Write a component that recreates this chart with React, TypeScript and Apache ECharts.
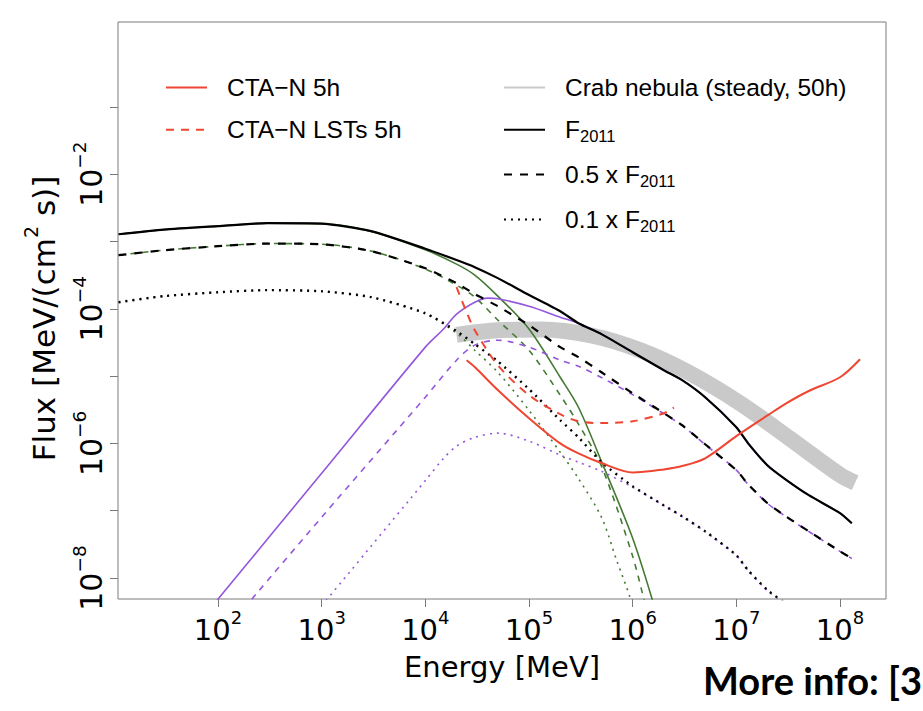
import React, { useEffect, useRef } from 'react';
import * as echarts from 'echarts';

const FONT = '"Liberation Sans", Arial, Helvetica, sans-serif';
const AXFONT = '"DejaVu Sans", "Liberation Sans", Arial, sans-serif';

// ---- axes ----
const xRange = [10.85, 2.778e8];
const yRange = [4.875e-9, 1.82];
const xTickValues = [1e2, 1e3, 1e4, 1e5, 1e6, 1e7, 1e8];
const yTickValues = [1e-1, 1e-2, 1e-3, 1e-4, 1e-5, 1e-6, 1e-7, 1e-8];
const yLabelValues = [1e-2, 1e-4, 1e-6, 1e-8];

// ---- series values: [Energy MeV, Flux MeV/(cm^2 s)] ----
const f2011: [number, number][] = [
  [11, 1.28e-3], [30, 1.5e-3], [100, 1.69e-3], [300, 1.87e-3], [1e3, 1.84e-3], [3e3, 1.42e-3],
  [1e4, 7.8e-4], [2e4, 5.3e-4], [3e4, 4.15e-4], [5e4, 2.85e-4], [1e5, 1.6e-4], [2e5, 9.2e-5],
  [3e5, 6.1e-5], [5e5, 4.2e-5], [1e6, 2.26e-5], [2e6, 1.22e-5], [3e6, 8.7e-6], [5e6, 4.85e-6],
  [1e7, 1.74e-6], [1.3e7, 1.0e-6], [2e7, 4.7e-7], [3e7, 2.9e-7], [5e7, 1.7e-7], [1e8, 9.2e-8], [1.3e8, 6.5e-8],
];
const half2011: [number, number][] = [
  [11, 6.25e-4], [30, 7.4e-4], [100, 8.5e-4], [300, 9.3e-4], [1e3, 9.1e-4], [3e3, 7.2e-4],
  [1e4, 4.0e-4], [2e4, 2.4e-4], [3e4, 1.65e-4], [5e4, 1.09e-4], [1e5, 5.7e-5], [2e5, 2.69e-5],
  [3e5, 1.91e-5], [5e5, 1.14e-5], [1e6, 5.56e-6], [2e6, 2.81e-6], [3e6, 1.86e-6], [5e6, 9.7e-7],
  [1e7, 4.0e-7], [1.3e7, 2.47e-7], [2e7, 1.29e-7], [3e7, 8.26e-8], [5e7, 4.94e-8], [1e8, 2.49e-8], [1.3e8, 1.96e-8],
];
const tenth2011: [number, number][] = [
  [11, 1.25e-4], [30, 1.54e-4], [100, 1.76e-4], [300, 1.89e-4], [1e3, 1.82e-4], [3e3, 1.49e-4],
  [1e4, 8.6e-5], [2e4, 4.65e-5], [3e4, 2.98e-5], [5e4, 1.66e-5], [1e5, 6.4e-6], [2e5, 2.21e-6],
  [3e5, 1.23e-6], [5e5, 5.25e-7], [1e6, 2.31e-7], [2e6, 1.2e-7], [3e6, 8.26e-8], [5e6, 4.94e-8],
  [1e7, 2.18e-8], [1.3e7, 1.3e-8], [2e7, 6.6e-9], [3e7, 4.2e-9],
];
const hadF: [number, number][] = [
  [11, 1.28e-3], [30, 1.5e-3], [100, 1.69e-3], [300, 1.87e-3], [1e3, 1.84e-3], [3e3, 1.41e-3],
  [1e4, 7.5e-4], [2e4, 4.6e-4], [3e4, 3.16e-4], [5e4, 1.54e-4], [1e5, 5.0e-5], [2e5, 9.6e-6],
  [3e5, 3.44e-6], [5e5, 5.4e-7], [1e6, 3.9e-8], [1.6e6, 4e-9],
];
const hadHalf: [number, number][] = [
  [11, 6.25e-4], [30, 7.4e-4], [100, 8.5e-4], [300, 9.3e-4], [1e3, 9.1e-4], [3e3, 7.2e-4],
  [1e4, 3.9e-4], [2e4, 2.24e-4], [3e4, 1.49e-4], [5e4, 6.8e-5], [1e5, 2.42e-5], [2e5, 5.2e-6],
  [3e5, 1.93e-6], [5e5, 4.6e-7], [1e6, 2.1e-8], [1.32e6, 4e-9],
];
const hadTenth: [number, number][] = [
  [11, 1.25e-4], [30, 1.54e-4], [100, 1.76e-4], [300, 1.89e-4], [1e3, 1.82e-4], [3e3, 1.49e-4],
  [1e4, 8.4e-5], [2e4, 4.34e-5], [3e4, 2.42e-5], [5e4, 1.14e-5], [1e5, 3.1e-6], [2e5, 7.4e-7],
  [3e5, 3.0e-7], [5e5, 8.0e-8], [7e5, 1.84e-8], [9.4e5, 5.2e-9], [1.05e6, 2.5e-9],
];
const icF: [number, number][] = [
  [80, 3.2e-9], [1e3, 3.6e-7], [1e4, 2.69e-5], [1.5e4, 5.0e-5], [2e4, 8.3e-5], [3e4, 1.25e-4],
  [4e4, 1.44e-4], [5e4, 1.41e-4], [1e5, 1.09e-4], [2e5, 7.5e-5], [3e5, 6.1e-5], [5e5, 4.2e-5],
  [1e6, 2.26e-5], [2e6, 1.22e-5], [3e6, 8.7e-6], [5e6, 4.85e-6], [1e7, 1.74e-6], [1.3e7, 1.0e-6],
  [2e7, 4.7e-7], [3e7, 2.9e-7], [5e7, 1.7e-7], [1e8, 9.2e-8], [1.3e8, 6.5e-8],
];
const icHalf: [number, number][] = [
  [150, 2.6e-9], [1e3, 8.0e-8], [1e4, 4.85e-6], [2e4, 1.72e-5], [3e4, 2.88e-5], [5e4, 3.41e-5],
  [1e5, 2.69e-5], [2e5, 1.72e-5], [3e5, 1.4e-5], [5e5, 9.5e-6], [1e6, 5.3e-6], [2e6, 2.75e-6],
  [3e6, 1.84e-6], [5e6, 9.6e-7], [1e7, 4.0e-7], [1.3e7, 2.45e-7], [2e7, 1.28e-7], [3e7, 8.2e-8],
  [5e7, 4.9e-8], [1e8, 2.48e-8], [1.3e8, 1.95e-8],
];
const icTenth: [number, number][] = [
  [1e3, 3.85e-9], [1e4, 2.8e-7], [1.5e4, 6.0e-7], [2e4, 9.1e-7], [3e4, 1.23e-6], [5e4, 1.42e-6],
  [1e5, 1.08e-6], [2e5, 6.7e-7], [3e5, 5.25e-7], [5e5, 3.85e-7], [1e6, 2.23e-7], [2e6, 1.19e-7],
  [3e6, 8.2e-8], [5e6, 4.9e-8], [1e7, 2.16e-8], [1.3e7, 1.29e-8], [2e7, 6.5e-9], [3e7, 4.1e-9],
];
const ctaN: [number, number][] = [
  [2.5e4, 1.72e-5], [3e4, 1.36e-5], [5e4, 6.2e-6], [1e5, 2.37e-6], [2e5, 1.0e-6], [3e5, 7.1e-7],
  [5e5, 5.1e-7], [1e6, 3.7e-7], [2e6, 4.1e-7], [3e6, 4.6e-7], [5e6, 6.0e-7], [1e7, 1.28e-6],
  [2e7, 2.6e-6], [3e7, 3.9e-6], [5e7, 6.0e-6], [1e8, 9.6e-6], [1.56e8, 1.78e-5],
];
const ctaLST: [number, number][] = [
  [2.0e4, 2.09e-4], [2.5e4, 8.9e-5], [3e4, 4.8e-5], [5e4, 1.45e-5], [1e5, 5.2e-6], [2e5, 2.71e-6],
  [3e5, 2.13e-6], [5e5, 2.0e-6], [1e6, 2.13e-6], [2e6, 2.8e-6], [2.5e6, 3.4e-6],
];
const crab: [number, number][] = [
  [2.0e4, 4.1e-5], [5e4, 4.8e-5], [1.3e5, 4.9e-5], [4e5, 4.0e-5], [1.2e6, 2.4e-5], [3.5e6, 1.12e-5],
  [1.1e7, 3.9e-6], [3.3e7, 1.17e-6], [1e8, 3.4e-7], [1.4e8, 2.6e-7],
];

const legendLeft = ['CTA\u2212N 5h', 'CTA\u2212N LSTs 5h'];
const legendRight = ['Crab nebula (steady, 50h)', 'F2011', '0.5 x F2011', '0.1 x F2011'];

const RED = '#ee4632';
const PURPLE = '#9457dc';
const GREEN = '#447a33';
const BLACK = '#000000';
const GRAY = '#c9c9c9';

const powLabel = (v: number) => {
  const e = Math.round(Math.log10(v));
  return `{b|10}{s|${e < 0 ? '\u2212' + -e : e}}`;
};

const xTickRich = {
  b: { fontSize: 29, lineHeight: 36, verticalAlign: 'bottom', fontFamily: AXFONT, color: '#000' },
  s: { fontSize: 18, lineHeight: 22, verticalAlign: 'top', fontFamily: AXFONT, color: '#000' },
};
const yTickRich = {
  b: { fontSize: 30, lineHeight: 36, verticalAlign: 'bottom', fontFamily: AXFONT, color: '#000' },
  s: { fontSize: 18.5, lineHeight: 22, verticalAlign: 'top', fontFamily: AXFONT, color: '#000' },
};

const legendFormatter = (name: string) => {
  if (name.endsWith('F2011')) {
    return `{n|${name.slice(0, -4)}}{sub|2011}`;
  }
  return `{n|${name}}`;
};

const legendTextStyle = {
  fontFamily: FONT,
  fontSize: 24.5,
  color: '#000',
  padding: [0, 0, 0, 15],
  rich: {
    n: { fontSize: 24.5, lineHeight: 30, verticalAlign: 'middle', fontFamily: FONT, color: '#000' },
    sub: { fontSize: 16.5, lineHeight: 16, verticalAlign: 'bottom', fontFamily: FONT, color: '#000' },
  },
};

const mkLine = (
  name: string,
  data: [number, number][],
  color: string,
  width: number,
  type: any,
  smooth = 0.3,
) => ({
  type: 'line',
  name,
  data,
  symbol: 'none',
  showSymbol: false,
  smooth,
  silent: true,
  clip: true,
  lineStyle: { color, width, type, cap: 'butt' },
  itemStyle: { color },
  emphasis: { disabled: true },
});

export default function App() {
  const ref = useRef<HTMLDivElement>(null);
  useEffect(() => {
    if (!ref.current) return;
    const chart = echarts.init(ref.current, undefined, { renderer: 'svg' });
    const legendCommon = {
      orient: 'vertical',
      top: 75,
      padding: 0,
      itemWidth: 41,
      itemHeight: 14,
      itemGap: 17.3,
      selectedMode: false,
      formatter: legendFormatter,
      textStyle: legendTextStyle,
      itemStyle: { opacity: 0 },
      lineStyle: { width: 2 },
    };
    const option: any = {
      animation: false,
      backgroundColor: '#ffffff',
      grid: {
        left: 118, right: 37, top: 22, bottom: 112,
        show: true, borderColor: '#7a7a7a', borderWidth: 1, backgroundColor: 'transparent',
      },
      xAxis: {
        type: 'log',
        logBase: 10,
        min: xRange[0],
        max: xRange[1],
        axisLine: { show: false },
        splitLine: { show: false },
        minorTick: { show: false },
        axisTick: { show: true, length: 8, inside: false, customValues: xTickValues, lineStyle: { color: '#7a7a7a' } },
        axisLabel: { customValues: xTickValues, formatter: powLabel, rich: xTickRich, margin: 9 },
        name: 'Energy [MeV]',
        nameLocation: 'middle',
        nameGap: 37,
        nameTextStyle: { fontFamily: AXFONT, fontSize: 29, lineHeight: 36, color: '#000' },
      },
      yAxis: {
        type: 'log',
        logBase: 10,
        min: yRange[0],
        max: yRange[1],
        axisLine: { show: false },
        splitLine: { show: false },
        minorTick: { show: false },
        axisTick: { show: true, length: 8, inside: false, customValues: yTickValues, lineStyle: { color: '#7a7a7a' } },
        axisLabel: { customValues: yLabelValues, formatter: powLabel, rich: yTickRich, margin: 12, rotate: 90 },
        name: '{a|Flux [MeV/(cm}{s|2}{a| s)]}',
        nameLocation: 'middle',
        nameRotate: 90,
        nameGap: 59,
        nameTextStyle: {
          fontFamily: AXFONT,
          fontSize: 31,
          color: '#000',
          padding: [0, 16, 0, 0],
          rich: {
            a: { fontSize: 31, lineHeight: 38, verticalAlign: 'bottom', fontFamily: AXFONT, color: '#000' },
            s: { fontSize: 19, lineHeight: 22, verticalAlign: 'top', fontFamily: AXFONT, color: '#000' },
          },
        },
      },
      legend: [
        { ...legendCommon, left: 165, data: legendLeft },
        { ...legendCommon, left: 503, data: legendRight },
      ],
      graphic: [
        {
          type: 'text',
          x: 703,
          y: 680,
          silent: true,
          style: {
            text: 'More info: [3',
            font: 'bold 38px Lato, "Open Sans", sans-serif',
            fill: '#000',
            align: 'left',
            verticalAlign: 'middle',
          },
        },
      ],
      series: [
        mkLine('Crab nebula (steady, 50h)', crab, GRAY, 16, 'solid', 0.3),
        mkLine('Hadronic F2011', hadF, GREEN, 1.6, 'solid'),
        mkLine('Hadronic 0.5 x F2011', hadHalf, GREEN, 1.6, [6, 6]),
        mkLine('Hadronic 0.1 x F2011', hadTenth, GREEN, 1.6, [2, 5]),
        mkLine('IC F2011', icF, PURPLE, 1.6, 'solid'),
        mkLine('IC 0.5 x F2011', icHalf, PURPLE, 1.6, [6, 6]),
        mkLine('IC 0.1 x F2011', icTenth, PURPLE, 1.6, [2, 5]),
        mkLine('F2011', f2011, BLACK, 2.2, 'solid', 0.2),
        mkLine('0.5 x F2011', half2011, BLACK, 2.2, [8, 8], 0.2),
        mkLine('0.1 x F2011', tenth2011, BLACK, 2.4, [2, 5], 0.2),
        mkLine('CTA\u2212N 5h', ctaN, RED, 2, 'solid'),
        mkLine('CTA\u2212N LSTs 5h', ctaLST, RED, 2, [8, 7]),
      ],
    };
    chart.setOption(option);
    return () => chart.dispose();
  }, []);
  return (
    <div
      ref={ref}
      style={{ position: 'absolute', left: 0, top: 0, width: 923, height: 711, background: '#fff' }}
    />
  );
}
